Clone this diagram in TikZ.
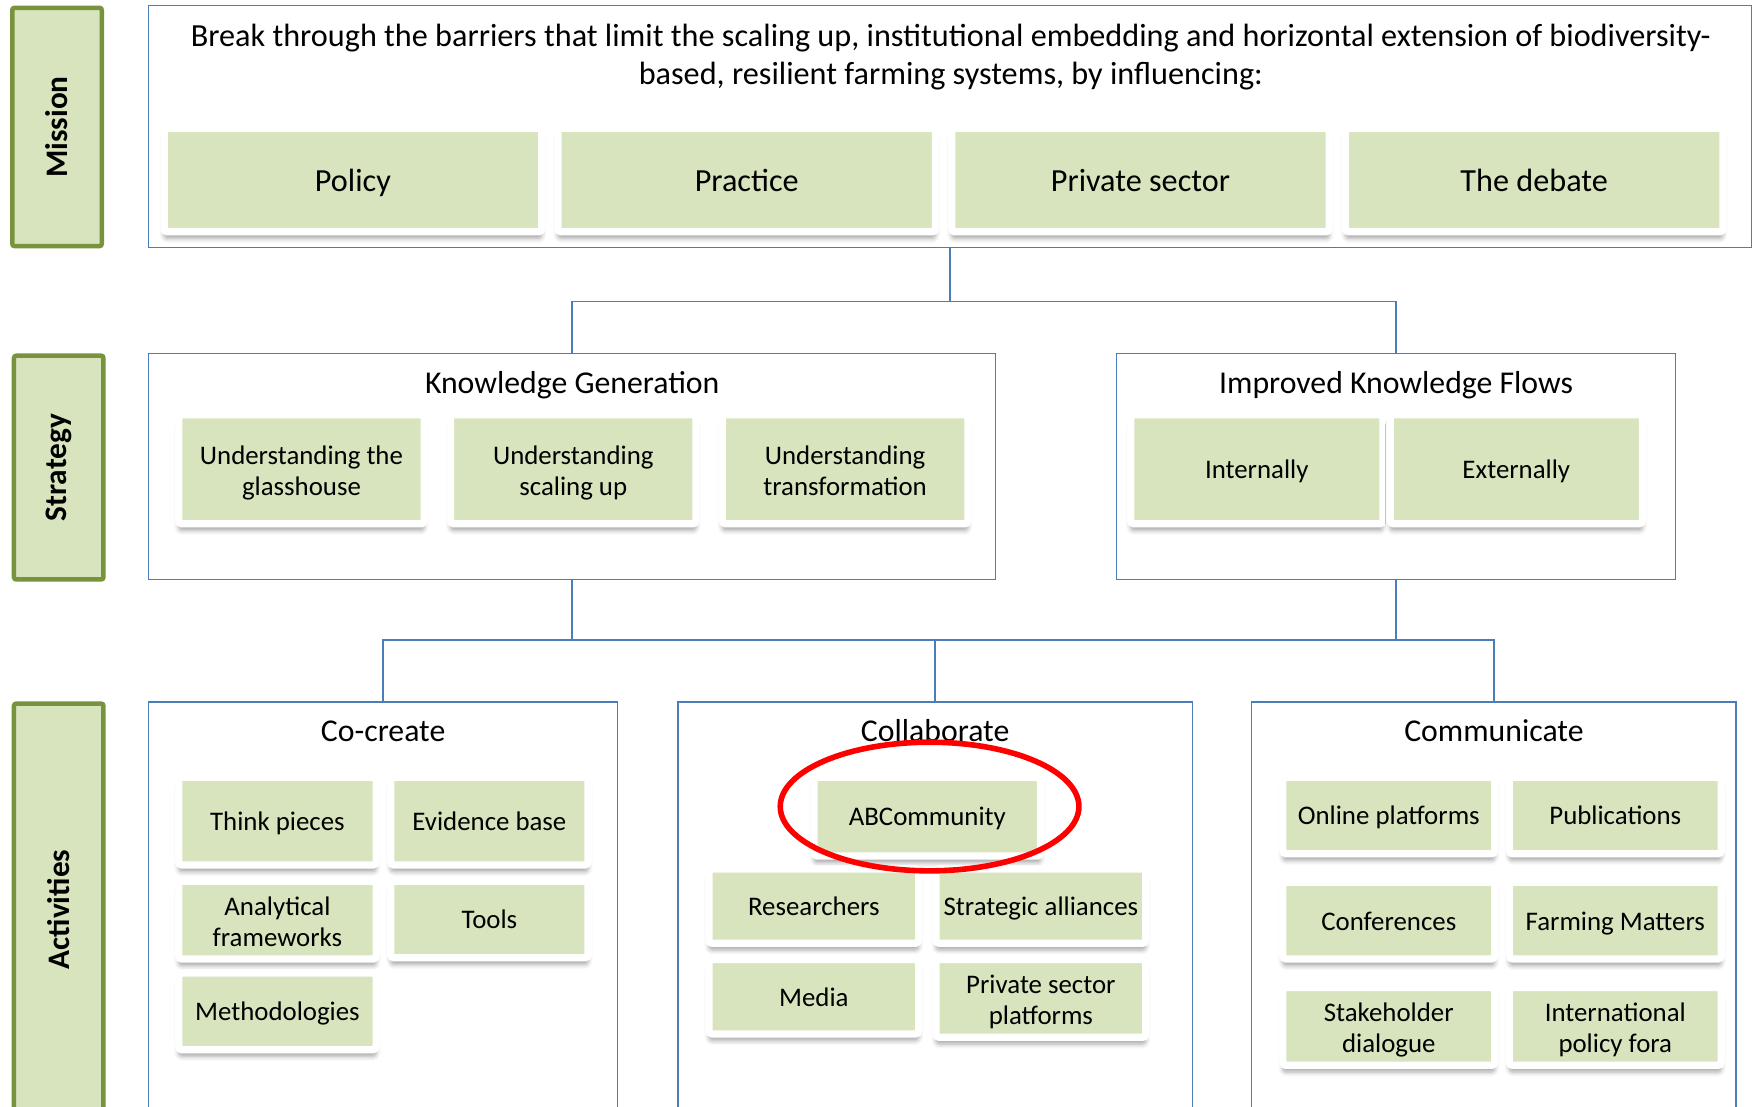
\documentclass[tikz,border=0pt]{standalone}
\usepackage{fontspec}
\setmainfont{Carlito}
\usetikzlibrary{positioning, shapes.geometric, shadows.blur}
\definecolor{leaf}{HTML}{D7E4BD}
\definecolor{moss}{HTML}{77933C}
\definecolor{edgeblue}{HTML}{4A7EBB}
\newcommand{\capstrut}{\rule[-0.3em]{0pt}{1.5em}}
\newcommand{\itemstrut}{\rule[-0.3em]{0pt}{1.3em}}
\newcommand{\topstrut}{\rule{0pt}{1.1em}}

\begin{document}
\begin{tikzpicture}[x=1pt, y=-1pt,
    tier/.style={draw=moss, fill=leaf, line width=2pt, rounded corners=1pt, rotate=90,
      minimum height=40pt, font=\fontsize{14}{17}\selectfont\bfseries},
    panel/.style={draw=edgeblue, line width=0.6pt, inner sep=0pt},
    title/.style={font=\fontsize{14.2}{17}\selectfont,
      execute at begin node=\capstrut, execute at end node=\capstrut},
    item/.style={fill=leaf, draw=white, line width=3.25pt, rounded corners=1.5pt, align=center,
      inner sep=2pt, font=\fontsize{12}{14}\selectfont,
      execute at begin node=\itemstrut, execute at end node=\itemstrut,
      blur shadow={shadow xshift=0pt, shadow yshift=-3pt, shadow blur radius=2pt, shadow opacity=35}},
    big/.style={item, font=\fontsize{14.4}{17}\selectfont, minimum width=168.75pt, minimum height=46.25pt},
    kgitem/.style={item, minimum width=109.75pt, minimum height=48.75pt},
    flowitem/.style={item, minimum width=112.75pt, minimum height=48.75pt},
    ccitem/.style={item, minimum width=88.25pt, minimum height=34.25pt},
    coitem/.style={item, minimum width=93.75pt, minimum height=33.25pt},
    cmitem/.style={item, minimum width=94.75pt, minimum height=34.25pt},
    link/.style={draw=edgeblue, line width=0.8pt},
    ]
  \useasboundingbox (0,0) rectangle (784,494.5);
  \clip (0,0) rectangle (784,494.5);

  \node[tier, minimum width=106.5pt] (mission) at (25.5,56.75) {Mission};
  \node[tier, minimum width=100pt] (strategy) at (26.25,209) {Strategy};
  \node[tier, minimum width=184pt] (activities) at (26.25,406.5) {Activities};

  \node[panel, minimum width=716.5pt, minimum height=108pt] (goalbox) at (424.75,56.5) {};
  \node[title, align=center, font=\fontsize{14.4}{17}\selectfont] (goal) at (425,26.5) {Break through the barriers that limit the scaling up, institutional embedding and horizontal extension of biodiversity-\\based, resilient farming systems, by influencing:};
  \node[big] (policy) at (157.75,80.5) {Policy};
  \node[big, right=4pt of policy] (practice) {Practice};
  \node[big, right=4pt of practice] (privsec) {Private sector};
  \node[big, right=4pt of privsec] (debate) {The debate};

  \node[panel, minimum width=378.5pt, minimum height=101pt] (kg) at (255.75,208.5) {};
  \node[title] (kgtitle) at ([yshift=-11.75pt]kg.north) {Knowledge Generation};
  \node[kgitem] (glass) at (134.75,209.75) {\topstrut Understanding the\\glasshouse};
  \node[kgitem, right=8.5pt of glass] (scaling) {\topstrut Understanding\\scaling up};
  \node[kgitem, right=8.5pt of scaling] (transf) {\topstrut Understanding\\transformation};

  \node[panel, minimum width=250pt, minimum height=101pt] (ikf) at (624,208.5) {};
  \node[title] (ikftitle) at ([yshift=-11.75pt]ikf.north) {Improved Knowledge Flows};
  \node[flowitem] (internal) at (561.75,209.75) {Internally};
  \node[flowitem, right=0pt of internal] (external) {Externally};

  \coordinate (fork1) at ([yshift=-24pt]goalbox.south);
  \draw[link] (goalbox.south) -- (fork1);
  \draw[link] (kg.north) |- (fork1) -| (ikf.north);

  \node[panel, minimum width=209.5pt, minimum height=190pt, anchor=north] (cocreate) at (171.25,313.5) {};
  \node[title] (cctitle) at ([yshift=-11.5pt]cocreate.north) {Co-create};
  \node[panel, minimum width=230pt, minimum height=190pt, anchor=north] (collab) at (418,313.5) {};
  \node[title] (cotitle) at ([yshift=-11.5pt]collab.north) {Collaborate};
  \node[panel, minimum width=216.5pt, minimum height=190pt, anchor=north] (commun) at (667.75,313.5) {};
  \node[title] (cmtitle) at ([yshift=-11.5pt]commun.north) {Communicate};

  \coordinate (fork2) at ([yshift=27.5pt]collab.north);
  \draw[link] (kg.south) -- (kg.south |- fork2);
  \draw[link] (ikf.south) -- (ikf.south |- fork2);
  \draw[link] (cocreate.north) |- (fork2) -| (commun.north);
  \draw[link] (collab.north) -- (fork2);

  \node[ccitem, minimum height=39.25pt] (think) at (124,367) {Think pieces};
  \node[ccitem, minimum height=39.25pt, right=3.25pt of think] (evidence) {Evidence base};
  \node[ccitem, below=4pt of think] (analytic) {\topstrut Analytical\\frameworks};
  \node[ccitem, below=4pt of evidence] (tools) {Tools};
  \node[ccitem, below=3pt of analytic] (methods) {Methodologies};

  \node[item, minimum width=101.25pt, minimum height=35.25pt] (abc) at (414.5,365) {ABCommunity};
  \node[coitem] (research) at (363.75,405) {Researchers};
  \node[coitem, right=4.5pt of research] (alliance) {Strategic alliances};
  \node[coitem, below=4pt of research] (media) {Media};
  \node[coitem, below=4pt of alliance] (psplat) {\topstrut Private sector\\platforms};

  \node[cmitem] (online) at (620.75,364.5) {Online platforms};
  \node[cmitem, right=3.25pt of online] (pubs) {Publications};
  \node[cmitem, below=9.5pt of online] (confs) {Conferences};
  \node[cmitem, below=9.5pt of pubs] (farming) {Farming Matters};
  \node[cmitem, below=9.5pt of confs] (dialogue) {\topstrut Stakeholder\\dialogue};
  \node[cmitem, below=9.5pt of farming] (fora) {\topstrut International\\policy fora};

  \node[draw=red, ellipse, line width=2.5pt, minimum width=133.5pt, minimum height=57.5pt] (ring) at (415.5,360.5) {};
\end{tikzpicture}
\end{document}
